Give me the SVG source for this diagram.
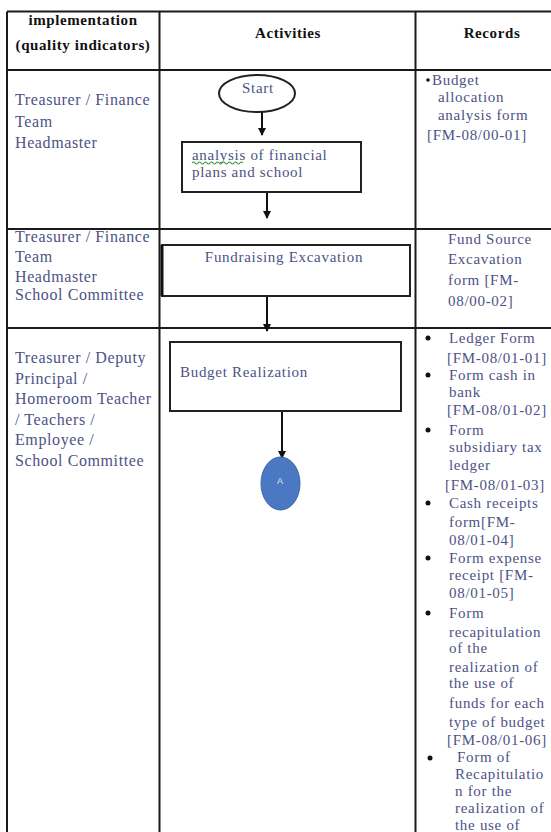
<svg xmlns="http://www.w3.org/2000/svg" width="551" height="832" viewBox="0 0 551 832">
<defs>
<style>
.grid{stroke:#1a1a1a;stroke-width:2;fill:none}
.hd{font-family:"Liberation Serif",serif;font-size:15px;font-weight:bold;fill:#111;letter-spacing:0.6px}
.lt{font-family:"Liberation Serif",serif;font-size:16px;fill:#4d5285;letter-spacing:0.6px}
.rt{font-family:"Liberation Serif",serif;font-size:15px;fill:#4d5285;letter-spacing:0.7px}
.bx{fill:#fff;stroke:#222;stroke-width:2}
.bt{font-family:"Liberation Serif",serif;font-size:15px;fill:#4d5285;letter-spacing:0.7px}
.cn{stroke:#111;stroke-width:2;fill:none}
.bul{fill:#111}
</style>
<marker id="ah" markerWidth="8" markerHeight="8" refX="7" refY="4" orient="auto" markerUnits="userSpaceOnUse">
<path d="M0,0 L8,4 L0,8 Z" fill="#111"/>
</marker>
</defs>
<rect width="551" height="832" fill="#fff"/>

<g id="table">
<line class="grid" x1="7" y1="11.5" x2="551" y2="11.5"/>
<line class="grid" x1="7" y1="70" x2="551" y2="70"/>
<line class="grid" x1="7" y1="229" x2="551" y2="229"/>
<line class="grid" x1="7" y1="328" x2="551" y2="328"/>
<line class="grid" x1="7" y1="11.5" x2="7" y2="832"/>
<line class="grid" x1="159.5" y1="11.5" x2="159.5" y2="832"/>
<line class="grid" x1="415.5" y1="11.5" x2="415.5" y2="832"/>
</g>

<g id="headers">
<text class="hd" x="83" y="25" text-anchor="middle">implementation</text>
<text class="hd" x="83" y="50" text-anchor="middle">(quality indicators)</text>
<text class="hd" x="288" y="38" text-anchor="middle">Activities</text>
<text class="hd" x="492" y="38" text-anchor="middle">Records</text>
</g>

<g id="roles">
<text class="lt" x="15" y="105">Treasurer / Finance</text>
<text class="lt" x="15" y="127">Team</text>
<text class="lt" x="15" y="148">Headmaster</text>
<text class="lt" x="15" y="242">Treasurer / Finance</text>
<text class="lt" x="15" y="262">Team</text>
<text class="lt" x="15" y="282">Headmaster</text>
<text class="lt" x="15" y="300">School Committee</text>
<text class="lt" x="15" y="363">Treasurer / Deputy</text>
<text class="lt" x="15" y="384">Principal /</text>
<text class="lt" x="15" y="404">Homeroom Teacher</text>
<text class="lt" x="15" y="425">/ Teachers /</text>
<text class="lt" x="15" y="445">Employee /</text>
<text class="lt" x="15" y="466">School Committee</text>
</g>

<g id="records">
<circle class="bul" cx="428" cy="80" r="1.8"/>
<text class="rt" x="432" y="85">Budget</text>
<text class="rt" x="438" y="102">allocation</text>
<text class="rt" x="438" y="120">analysis form</text>
<text class="rt" x="427" y="140">[FM-08/00-01]</text>

<text class="rt" x="448" y="244">Fund Source</text>
<text class="rt" x="448" y="264">Excavation</text>
<text class="rt" x="448" y="285">form [FM-</text>
<text class="rt" x="448" y="306">08/00-02]</text>

<circle class="bul" cx="428" cy="338" r="2.5"/>
<circle class="bul" cx="428" cy="375" r="2.5"/>
<circle class="bul" cx="428" cy="430" r="2.5"/>
<circle class="bul" cx="428" cy="503" r="2.5"/>
<circle class="bul" cx="428" cy="558" r="2.5"/>
<circle class="bul" cx="428" cy="613" r="2.5"/>
<circle class="bul" cx="430" cy="758" r="2.5"/>
<text class="rt" x="449" y="343">Ledger Form</text>
<text class="rt" x="447" y="363">[FM-08/01-01]</text>
<text class="rt" x="449" y="380">Form cash in</text>
<text class="rt" x="449" y="397">bank</text>
<text class="rt" x="447" y="415">[FM-08/01-02]</text>
<text class="rt" x="449" y="435">Form</text>
<text class="rt" x="449" y="452">subsidiary tax</text>
<text class="rt" x="449" y="470">ledger</text>
<text class="rt" x="445" y="490">[FM-08/01-03]</text>
<text class="rt" x="449" y="508">Cash receipts</text>
<text class="rt" x="449" y="527">form[FM-</text>
<text class="rt" x="449" y="545">08/01-04]</text>
<text class="rt" x="449" y="563">Form expense</text>
<text class="rt" x="449" y="580">receipt  [FM-</text>
<text class="rt" x="449" y="598">08/01-05]</text>
<text class="rt" x="449" y="618">Form</text>
<text class="rt" x="449" y="637">recapitulation</text>
<text class="rt" x="449" y="653">of the</text>
<text class="rt" x="449" y="672">realization of</text>
<text class="rt" x="449" y="688">the use of</text>
<text class="rt" x="449" y="708">funds for each</text>
<text class="rt" x="449" y="727">type of budget</text>
<text class="rt" x="447" y="745">[FM-08/01-06]</text>
<text class="rt" x="457" y="762">Form of</text>
<text class="rt" x="455" y="779">Recapitulatio</text>
<text class="rt" x="455" y="796">n  for the</text>
<text class="rt" x="455" y="813">realization of</text>
<text class="rt" x="455" y="830">the use of</text>
</g>

<g id="connectors">
<line class="cn" x1="262" y1="112" x2="262" y2="135" marker-end="url(#ah)"/>
<line class="cn" x1="267" y1="193" x2="267" y2="218" marker-end="url(#ah)"/>
<line class="cn" x1="267" y1="296" x2="267" y2="331" marker-end="url(#ah)"/>
<line class="cn" x1="282" y1="411" x2="282" y2="458" marker-end="url(#ah)"/>
</g>

<g id="start">
<ellipse cx="257" cy="93.5" rx="38" ry="18.5" fill="#fff" stroke="#222" stroke-width="2"/>
<text class="bt" x="258" y="93" text-anchor="middle">Start</text>
</g>

<g id="analysis">
<rect class="bx" x="182" y="142" width="179" height="50"/>
<text class="bt" x="192" y="160">analysis of financial</text>
<text class="bt" x="192" y="177">plans and school</text>
<path d="M192,163 q1.5,-2 3,0 t3,0 t3,0 t3,0 t3,0 t3,0 t3,0 t3,0 t3,0 t3,0 t3,0 t3,0 t3,0 t3,0 t3,0 t3,0 t3,0" fill="none" stroke="#3c9a3c" stroke-width="1.2"/>
</g>

<g id="fundraising">
<rect class="bx" x="162" y="245" width="248" height="51"/>
<line x1="162" y1="245" x2="162" y2="296" stroke="#111" stroke-width="3"/>
<text class="bt" x="284" y="262" text-anchor="middle">Fundraising Excavation</text>
</g>

<g id="realization">
<rect class="bx" x="170" y="342" width="231" height="69"/>
<text class="bt" x="180" y="377">Budget Realization</text>
</g>

<g id="connectorA">
<ellipse cx="280.5" cy="483.5" rx="19.5" ry="26.5" fill="#4a78c2" stroke="#3d66a8" stroke-width="1"/>
<text x="280" y="484" text-anchor="middle" font-family="Liberation Sans, sans-serif" font-size="9" fill="#e4ebf7">A</text>
</g>
</svg>
